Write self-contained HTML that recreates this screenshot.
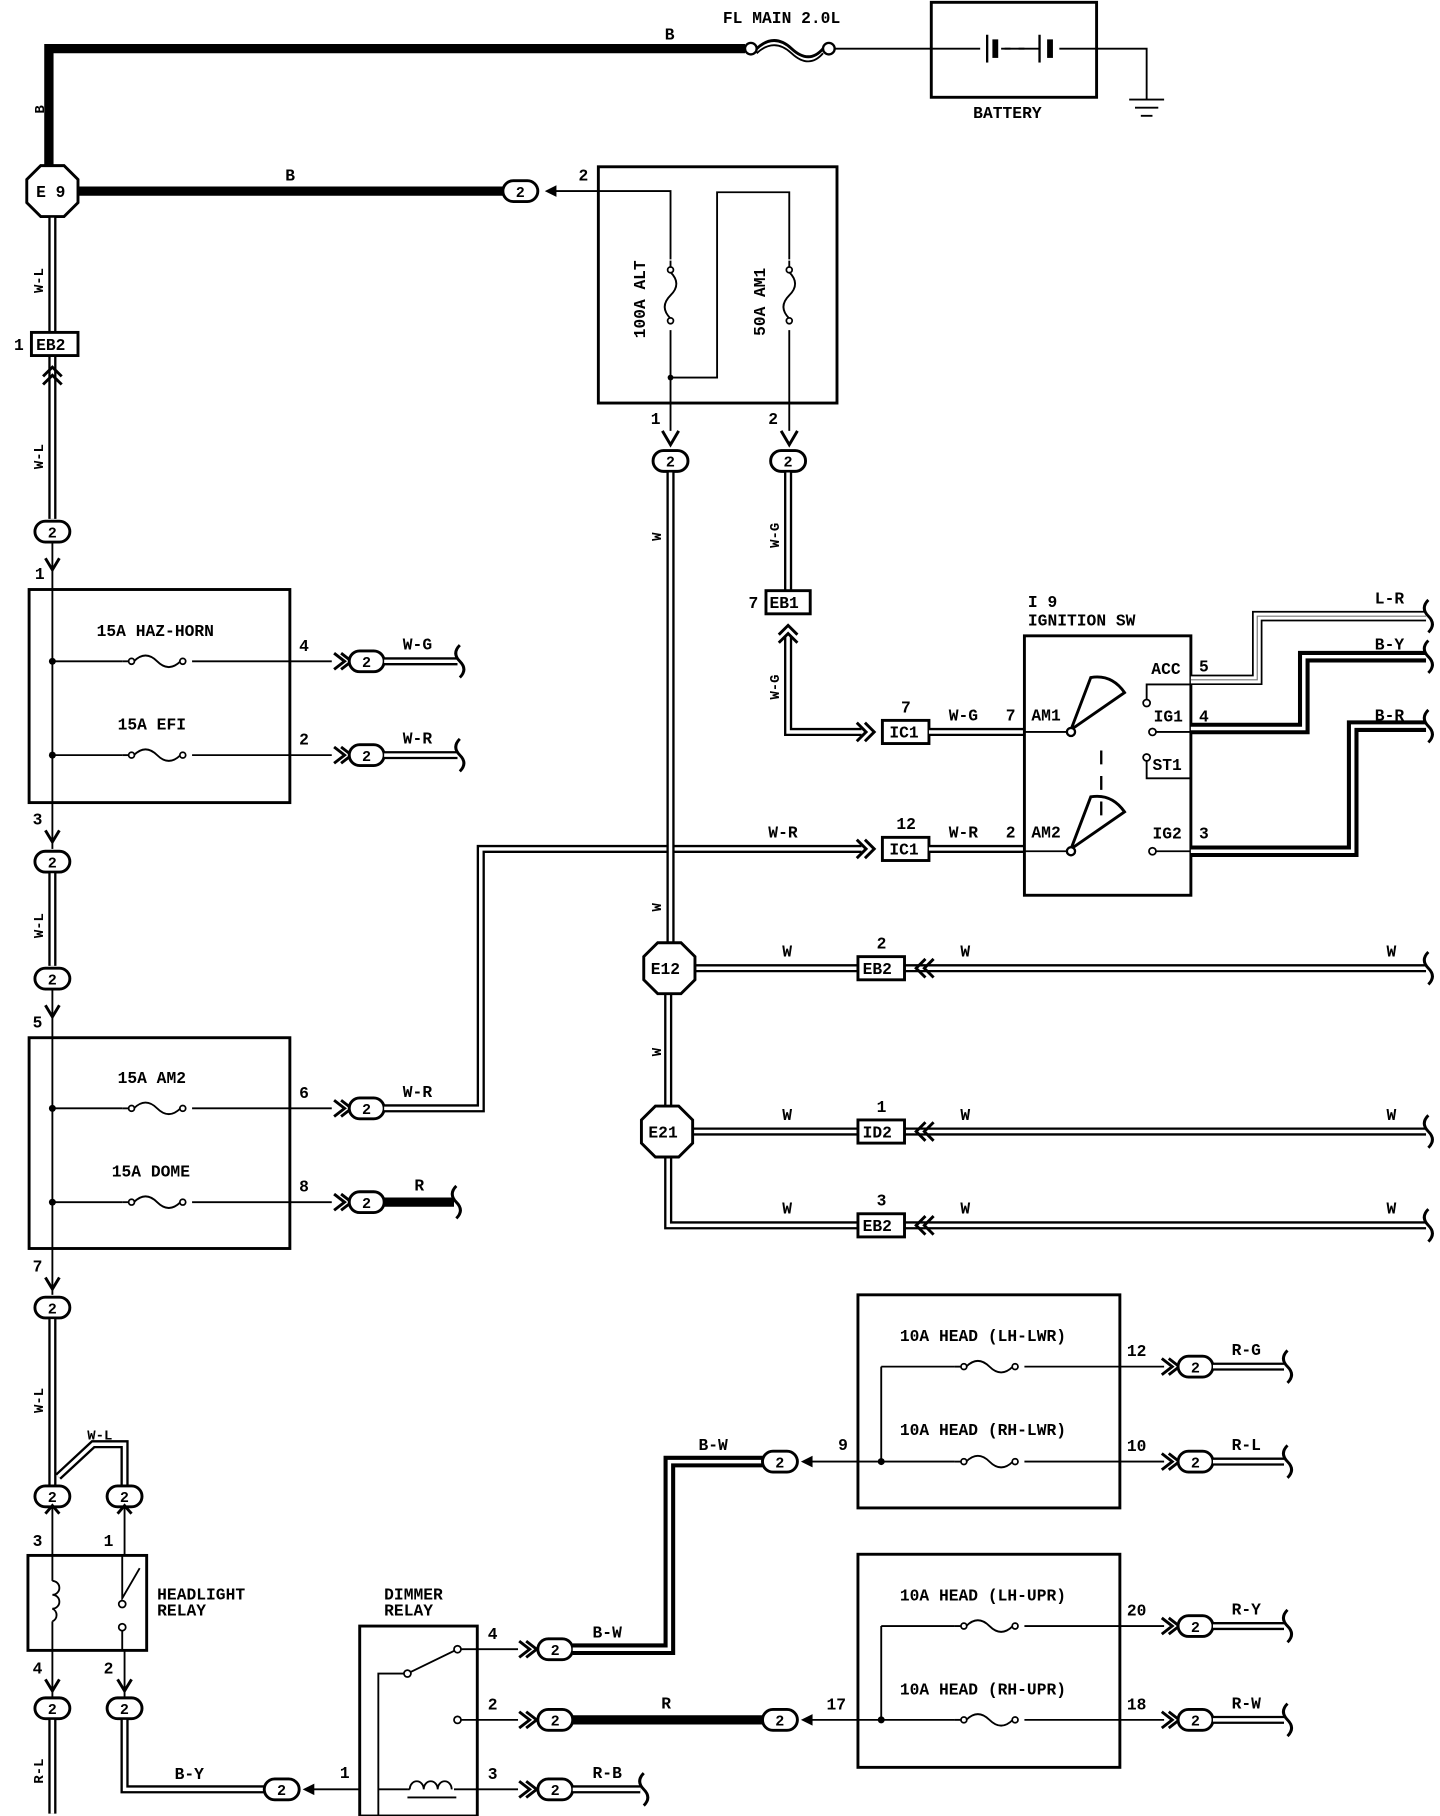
<!DOCTYPE html>
<html><head><meta charset="utf-8"><style>
html,body{margin:0;padding:0;background:#fff;}
svg{display:block}
text{font-family:"Liberation Mono",monospace;font-weight:bold;font-size:14px;fill:#000}
.t{fill:none;stroke:#000;stroke-width:1.6}
.b{fill:none;stroke:#000;stroke-width:2.5}
.k{fill:none;stroke:#000;stroke-width:8}
.do{fill:none;stroke:#000;stroke-width:7}
.di{fill:none;stroke:#fff;stroke-width:3}
.to{fill:none;stroke:#000;stroke-width:10}
.ti{fill:none;stroke:#fff;stroke-width:3}
.box{fill:#fff;stroke:#000;stroke-width:2.5}
</style></head><body>
<svg width="1440" height="1816" viewBox="0 0 1237 1568" preserveAspectRatio="none" xmlns="http://www.w3.org/2000/svg">
<defs>
<g id="c"><rect x="-15" y="-9" width="30" height="18" rx="9" fill="#fff" stroke="#000" stroke-width="2.5"/><text x="-4" y="5" style="font-size:13px">2</text></g>
<g id="sq"><path d="M0,-14 Q-7,-7 0,0 Q7,7 0,14" fill="none" stroke="#000" stroke-width="2.5"/></g>
<g id="fz"><path d="M-30,0 L-24,0" class="t"/><circle cx="-22" cy="0" r="2.5" fill="#fff" stroke="#000" stroke-width="1.5"/><path d="M-20,0 Q-10,-10 0,0 Q10,10 20,0" class="t"/><circle cx="22" cy="0" r="2.5" fill="#fff" stroke="#000" stroke-width="1.5"/></g>
<g id="ch"><path d="M-12,-8 L-4,0 L-12,8 M-5,-8 L3,0 L-5,8" fill="none" stroke="#000" stroke-width="2.5"/></g>
<g id="oct"><polygon points="-10,-22 10,-22 22,-10 22,10 10,22 -10,22 -22,10 -22,-10" fill="#fff" stroke="#000" stroke-width="2.5"/></g>
</defs>

<path class="k" d="M42,148 L42,42 L640,42"/>
<text x="571" y="34">B</text>
<text x="38" y="98" transform="rotate(-90 38 98)" style="font-size:12px">B</text>
<circle cx="645" cy="42" r="5" fill="#fff" stroke="#000" stroke-width="2"/>
<path d="M650,42 Q665,28 680,42 Q695,56 707,42" class="b"/>
<path d="M650,46 Q665,32 680,46 Q695,60 707,46" class="t"/>
<circle cx="712" cy="42" r="5" fill="#fff" stroke="#000" stroke-width="2"/>
<text x="621" y="20">FL MAIN 2.0L</text>
<path class="t" d="M717,42 L800,42"/>
<rect x="800" y="2" width="142" height="82" class="box"/>
<path class="t" d="M800,42 L842,42 M860,42 L893,42 M910,42 L942,42"/>
<path d="M848,30 L848,54" stroke="#000" stroke-width="2"/><path d="M855,34 L855,50" stroke="#000" stroke-width="5"/>
<path d="M893,30 L893,54" stroke="#000" stroke-width="2"/><path d="M902,34 L902,50" stroke="#000" stroke-width="5"/>
<path class="t" d="M863,42 L868,42 M875,42 L880,42"/>
<text x="836" y="102">BATTERY</text>
<path class="t" d="M942,42 L985,42 L985,86 M970,86 L1000,86 M975,93 L995,93 M980,100 L990,100"/>

<path class="k" d="M62,165 L432,165"/>
<text x="245" y="156">B</text>
<use href="#oct" x="45" y="165"/><text x="31" y="170">E 9</text>
<use href="#c" x="447" y="165"/>
<path class="t" d="M472,165 L514,165"/><path d="M468,165 L478,160 L478,170Z" fill="#000"/>
<text x="497" y="156">2</text>
<rect x="514" y="144" width="205" height="204" class="box"/>
<path class="t" d="M514,165 L576,165 L576,224 M576,285 L576,326 L616,326 L616,166 L678,166 L678,224 M678,285 L678,372 M576,326 L576,372"/>
<circle cx="576" cy="326" r="2.5"/>
<g transform="translate(576,255) rotate(90)"><use href="#fz"/></g>
<g transform="translate(678,255) rotate(90)"><use href="#fz"/></g>
<text x="554" y="292" transform="rotate(-90 554 292)">100A ALT</text>
<text x="657" y="290" transform="rotate(-90 657 290)">50A AM1</text>
<path d="M569,372 L576,384 L583,372" class="b"/><path d="M671,372 L678,384 L685,372" class="b"/>
<text x="559" y="366">1</text><text x="660" y="366">2</text>
<use href="#c" x="576" y="398"/><use href="#c" x="677" y="398"/>

<path class="do" d="M45,188 L45,287 M45,307 L45,448"/><path class="di" d="M45,188 L45,287 M45,307 L45,448"/>
<text x="37" y="253" transform="rotate(-90 37 253)" style="font-size:12px">W-L</text>
<rect x="27" y="287" width="40" height="20" class="box"/><text x="31" y="302">EB2</text><text x="12" y="302">1</text>
<g transform="translate(45,320) rotate(-90)"><use href="#ch"/></g>
<text x="37" y="405" transform="rotate(-90 37 405)" style="font-size:12px">W-L</text>
<use href="#c" x="45" y="459"/>
<text x="30" y="500">1</text><path class="t" d="M45,469 L45,509"/><path d="M39,482 L45,492 L51,482" class="b"/>

<rect x="25" y="509" width="224" height="184" class="box"/>
<path class="t" d="M45,509 L45,693 M45,571 L105,571 M165,571 L285,571 M45,652 L105,652 M165,652 L285,652"/>
<use href="#fz" x="135" y="571"/><use href="#fz" x="135" y="652"/>
<circle cx="45" cy="571" r="3"/><circle cx="45" cy="652" r="3"/>
<text x="83" y="549">15A HAZ-HORN</text><text x="101" y="630">15A EFI</text>
<text x="257" y="562">4</text><text x="257" y="643">2</text>
<path d="M287,564 L296,571 L287,578 M293,564 L302,571 L293,578" class="b"/>
<path d="M287,645 L296,652 L287,659 M293,645 L302,652 L293,659" class="b"/>
<use href="#c" x="315" y="571"/><use href="#c" x="315" y="652"/>
<path class="do" d="M330,571 L393,571 M330,652 L393,652"/><path class="di" d="M330,571 L393,571 M330,652 L393,652"/>
<use href="#sq" x="395" y="571"/><use href="#sq" x="395" y="652"/>
<text x="346" y="561">W-G</text><text x="346" y="642">W-R</text>

<text x="28" y="712">3</text>
<path class="t" d="M45,693 L45,733"/><path d="M39,717 L45,727 L51,717" class="b"/>
<use href="#c" x="45" y="744"/>
<path class="do" d="M45,754 L45,834"/><path class="di" d="M45,754 L45,834"/>
<text x="37" y="810" transform="rotate(-90 37 810)" style="font-size:12px">W-L</text>
<use href="#c" x="45" y="845"/>
<text x="28" y="887">5</text>
<path class="t" d="M45,855 L45,896"/><path d="M39,868 L45,878 L51,868" class="b"/>

<rect x="25" y="896" width="224" height="182" class="box"/>
<path class="t" d="M45,896 L45,1078 M45,957 L105,957 M165,957 L285,957 M45,1038 L105,1038 M165,1038 L285,1038"/>
<use href="#fz" x="135" y="957"/><use href="#fz" x="135" y="1038"/>
<circle cx="45" cy="957" r="3"/><circle cx="45" cy="1038" r="3"/>
<text x="101" y="935">15A AM2</text><text x="96" y="1016">15A DOME</text>
<text x="257" y="948">6</text><text x="257" y="1029">8</text>
<path d="M287,950 L296,957 L287,964 M293,950 L302,957 L293,964" class="b"/>
<path d="M287,1031 L296,1038 L287,1045 M293,1031 L302,1038 L293,1045" class="b"/>
<use href="#c" x="315" y="957"/><use href="#c" x="315" y="1038"/>
<path class="do" d="M330,957 L413,957 L413,733 L740,733"/><path class="di" d="M330,957 L413,957 L413,733 L740,733"/>
<text x="346" y="947">W-R</text><text x="660" y="723">W-R</text>
<path class="k" d="M330,1038 L390,1038"/><use href="#sq" x="392" y="1038"/><text x="356" y="1028">R</text>

<text x="28" y="1098">7</text>
<path class="t" d="M45,1078 L45,1118"/><path d="M39,1103 L45,1113 L51,1103" class="b"/>
<use href="#c" x="45" y="1129"/>
<path class="do" d="M45,1139 L45,1282 M50,1275 L80,1247 L107,1247 L107,1282"/><path class="di" d="M45,1139 L45,1282 M50,1275 L80,1247 L107,1247 L107,1282"/>
<text x="37" y="1220" transform="rotate(-90 37 1220)" style="font-size:12px">W-L</text>
<text x="75" y="1243" style="font-size:12px">W-L</text>
<use href="#c" x="45" y="1292"/><use href="#c" x="107" y="1292"/>
<text x="28" y="1335">3</text><text x="89" y="1335">1</text>
<path class="t" d="M45,1302 L45,1343 M107,1302 L107,1343"/>
<path d="M39,1307 L45,1300 L51,1307 M101,1307 L107,1300 L113,1307" class="b"/>
<rect x="24" y="1343" width="102" height="82" class="box"/>
<path class="t" d="M45,1343 L45,1365 M45,1400 L45,1425 M105,1343 L105,1380 L120,1354 M105,1405 L105,1425"/>
<path class="t" d="M45,1365 a6,6 0 0 1 0,12 a6,6 0 0 1 0,12 a6,6 0 0 1 0,11"/>
<circle cx="105" cy="1385" r="3" fill="#fff" stroke="#000" stroke-width="1.5"/><circle cx="105" cy="1405" r="3" fill="#fff" stroke="#000" stroke-width="1.5"/>
<text x="135" y="1381">HEADLIGHT</text><text x="135" y="1395">RELAY</text>
<text x="28" y="1445">4</text><text x="89" y="1445">2</text>
<path class="t" d="M45,1425 L45,1465 M107,1425 L107,1465"/>
<path d="M39,1450 L45,1460 L51,1450 M101,1450 L107,1460 L113,1450" class="b"/>
<use href="#c" x="45" y="1475"/><use href="#c" x="107" y="1475"/>
<path class="do" d="M45,1485 L45,1566"/><path class="di" d="M45,1485 L45,1566"/>
<text x="37" y="1540" transform="rotate(-90 37 1540)" style="font-size:12px">R-L</text>
<path class="do" d="M107,1485 L107,1545 L227,1545"/><path class="di" d="M107,1485 L107,1545 L227,1545"/>
<text x="150" y="1536">B-Y</text>
<use href="#c" x="242" y="1545"/>
<path class="t" d="M262,1545 L310,1545"/><path d="M260,1545 L270,1540 L270,1550Z" fill="#000"/>
<text x="292" y="1535">1</text>

<text x="330" y="1381">DIMMER</text><text x="330" y="1395">RELAY</text>
<rect x="309" y="1404" width="101" height="164" class="box"/>
<path class="t" d="M325,1568 L325,1445 L347,1445 M350,1445 L393,1424 M393,1424 L445,1424 M393,1485 L445,1485 M325,1545 L350,1545 M390,1545 L445,1545"/>
<circle cx="350" cy="1445" r="3" fill="#fff" stroke="#000" stroke-width="1.5"/><circle cx="393" cy="1424" r="3" fill="#fff" stroke="#000" stroke-width="1.5"/><circle cx="393" cy="1485" r="3" fill="#fff" stroke="#000" stroke-width="1.5"/>
<path class="t" d="M350,1545 L352,1545 M352,1545 a6,7 0 0 1 12,0 a6,7 0 0 1 12,0 a6,7 0 0 1 12,0"/><path class="t" d="M350,1552 L392,1552"/>
<text x="419" y="1415">4</text><text x="419" y="1476">2</text><text x="419" y="1536">3</text>
<path d="M446,1417 L455,1424 L446,1431 M452,1417 L461,1424 L452,1431" class="b"/>
<path d="M446,1478 L455,1485 L446,1492 M452,1478 L461,1485 L452,1492" class="b"/>
<path d="M446,1538 L455,1545 L446,1552 M452,1538 L461,1545 L452,1552" class="b"/>
<use href="#c" x="477" y="1424"/><use href="#c" x="477" y="1485"/><use href="#c" x="477" y="1545"/>
<path class="to" d="M492,1424 L575,1424 L575,1262 L655,1262"/><path class="ti" d="M492,1424 L575,1424 L575,1262 L655,1262"/>
<text x="509" y="1414">B-W</text><text x="600" y="1252">B-W</text>
<path class="k" d="M492,1485 L655,1485"/><text x="568" y="1475">R</text>
<path class="do" d="M492,1545 L550,1545"/><path class="di" d="M492,1545 L550,1545"/><use href="#sq" x="553" y="1545"/>
<text x="509" y="1535">R-B</text>
<use href="#c" x="670" y="1262"/><use href="#c" x="670" y="1485"/>
<path class="t" d="M690,1262 L737,1262 M690,1485 L737,1485"/>
<path d="M688,1262 L698,1257 L698,1267Z M688,1485 L698,1480 L698,1490Z" fill="#000"/>
<text x="720" y="1252">9</text><text x="710" y="1476">17</text>

<rect x="737" y="1118" width="225" height="184" class="box"/>
<rect x="737" y="1342" width="225" height="184" class="box"/>
<path class="t" d="M737,1262 L757,1262 M757,1180 L757,1262 L820,1262 M757,1180 L820,1180 M880,1180 L1000,1180 M880,1262 L1000,1262"/>
<path class="t" d="M737,1485 L757,1485 M757,1404 L757,1485 L820,1485 M757,1404 L820,1404 M880,1404 L1000,1404 M880,1485 L1000,1485"/>
<circle cx="757" cy="1262" r="3"/><circle cx="757" cy="1485" r="3"/>
<use href="#fz" x="850" y="1180"/><use href="#fz" x="850" y="1262"/><use href="#fz" x="850" y="1404"/><use href="#fz" x="850" y="1485"/>
<text x="773" y="1158">10A HEAD (LH-LWR)</text><text x="773" y="1239">10A HEAD (RH-LWR)</text>
<text x="773" y="1382">10A HEAD (LH-UPR)</text><text x="773" y="1463">10A HEAD (RH-UPR)</text>
<text x="968" y="1171">12</text><text x="968" y="1253">10</text><text x="968" y="1395">20</text><text x="968" y="1476">18</text>
<g class="b">
<path d="M998,1173 L1007,1180 L998,1187 M1004,1173 L1013,1180 L1004,1187"/>
<path d="M998,1255 L1007,1262 L998,1269 M1004,1255 L1013,1262 L1004,1269"/>
<path d="M998,1397 L1007,1404 L998,1411 M1004,1397 L1013,1404 L1004,1411"/>
<path d="M998,1478 L1007,1485 L998,1492 M1004,1478 L1013,1485 L1004,1492"/>
</g>
<use href="#c" x="1027" y="1180"/><use href="#c" x="1027" y="1262"/><use href="#c" x="1027" y="1404"/><use href="#c" x="1027" y="1485"/>
<path class="do" d="M1042,1180 L1103,1180 M1042,1262 L1103,1262 M1042,1404 L1103,1404 M1042,1485 L1103,1485"/>
<path class="di" d="M1042,1180 L1103,1180 M1042,1262 L1103,1262 M1042,1404 L1103,1404 M1042,1485 L1103,1485"/>
<use href="#sq" x="1106" y="1180"/><use href="#sq" x="1106" y="1262"/><use href="#sq" x="1106" y="1404"/><use href="#sq" x="1106" y="1485"/>
<text x="1058" y="1170">R-G</text><text x="1058" y="1252">R-L</text><text x="1058" y="1394">R-Y</text><text x="1058" y="1475">R-W</text>

<path class="do" d="M576,408 L576,815 M574,857 L574,955 M574,999 L574,1058 L1225,1058 M596,836 L1225,836 M595,977 L1225,977"/>
<path class="di" d="M576,408 L576,815 M574,857 L574,955 M574,999 L574,1058 L1225,1058 M596,836 L1225,836 M595,977 L1225,977"/>
<text x="568" y="467" transform="rotate(-90 568 467)" style="font-size:12px">W</text>
<text x="568" y="787" transform="rotate(-90 568 787)" style="font-size:12px">W</text>
<text x="568" y="912" transform="rotate(-90 568 912)" style="font-size:12px">W</text>
<use href="#oct" x="575" y="836"/><text x="559" y="841">E12</text>
<use href="#oct" x="573" y="977"/><text x="557" y="982">E21</text>
<g>
<rect x="737" y="826" width="40" height="20" class="box"/><text x="741" y="841">EB2</text><text x="753" y="819">2</text>
<rect x="737" y="967" width="40" height="20" class="box"/><text x="741" y="982">ID2</text><text x="753" y="960">1</text>
<rect x="737" y="1048" width="40" height="20" class="box"/><text x="741" y="1063">EB2</text><text x="753" y="1041">3</text>
</g>
<g transform="translate(790,836) rotate(180)"><use href="#ch"/></g>
<g transform="translate(790,977) rotate(180)"><use href="#ch"/></g>
<g transform="translate(790,1058) rotate(180)"><use href="#ch"/></g>
<text x="672" y="826">W</text><text x="825" y="826">W</text><text x="1191" y="826">W</text>
<text x="672" y="967">W</text><text x="825" y="967">W</text><text x="1191" y="967">W</text>
<text x="672" y="1048">W</text><text x="825" y="1048">W</text><text x="1191" y="1048">W</text>
<use href="#sq" x="1227" y="836"/><use href="#sq" x="1227" y="977"/><use href="#sq" x="1227" y="1058"/>

<path class="do" d="M677,408 L677,510 M677,550 L677,632 L740,632"/><path class="di" d="M677,408 L677,510 M677,550 L677,632 L740,632"/>
<text x="669" y="473" transform="rotate(-90 669 473)" style="font-size:12px">W-G</text>
<text x="669" y="604" transform="rotate(-90 669 604)" style="font-size:12px">W-G</text>
<rect x="658" y="510" width="38" height="20" class="box"/><text x="661" y="525">EB1</text><text x="643" y="525">7</text>
<g transform="translate(677,543) rotate(-90)"><use href="#ch"/></g>
<g transform="translate(748,632)"><use href="#ch"/></g><g transform="translate(748,733)"><use href="#ch"/></g>
<rect x="758" y="622" width="40" height="20" class="box"/><text x="764" y="637">IC1</text><text x="774" y="615">7</text>
<rect x="758" y="723" width="40" height="20" class="box"/><text x="764" y="738">IC1</text><text x="770" y="716">12</text>
<path class="do" d="M798,632 L880,632 M798,733 L880,733"/><path class="di" d="M798,632 L880,632 M798,733 L880,733"/>
<text x="815" y="622">W-G</text><text x="864" y="622">7</text><text x="815" y="723">W-R</text><text x="864" y="723">2</text>

<text x="883" y="524">I 9</text><text x="883" y="540">IGNITION SW</text>
<rect x="880" y="549" width="143" height="224" class="box"/>
<path class="t" d="M880,632 L918,632 M880,735 L918,735"/>
<text x="886" y="622">AM1</text><text x="886" y="723">AM2</text>
<path d="M920,630 L937,585 Q955,582 966,598 Z" fill="#fff" stroke="#000" stroke-width="2.5"/>
<path d="M920,733 L937,688 Q955,685 966,701 Z" fill="#fff" stroke="#000" stroke-width="2.5"/>
<circle cx="920" cy="632" r="3.5" fill="#fff" stroke="#000" stroke-width="2"/><circle cx="920" cy="735" r="3.5" fill="#fff" stroke="#000" stroke-width="2"/>
<path d="M946,648 L946,705" stroke="#000" stroke-width="2" stroke-dasharray="12,10"/>
<path class="t" d="M1023,591 L985,591 L985,604 M1023,632 L993,632 M1023,672 L985,672 L985,657 M1023,735 L993,735"/>
<circle cx="985" cy="607" r="3" fill="#fff" stroke="#000" stroke-width="1.5"/><circle cx="990" cy="632" r="3" fill="#fff" stroke="#000" stroke-width="1.5"/>
<circle cx="985" cy="654" r="3" fill="#fff" stroke="#000" stroke-width="1.5"/><circle cx="990" cy="735" r="3" fill="#fff" stroke="#000" stroke-width="1.5"/>
<text x="989" y="582">ACC</text><text x="991" y="623">IG1</text><text x="990" y="665">ST1</text><text x="990" y="724">IG2</text>
<text x="1030" y="580">5</text><text x="1030" y="623">4</text><text x="1030" y="724">3</text>
<path fill="none" stroke="#000" stroke-width="9" d="M1023,587 L1080,587 L1080,532 L1225,532"/>
<path fill="none" stroke="#fff" stroke-width="6" d="M1023,587 L1080,587 L1080,532 L1225,532"/>
<path fill="none" stroke="#777" stroke-width="1" d="M1023,587 L1080,587 L1080,532 L1225,532"/>
<path class="to" d="M1023,629 L1120,629 L1120,567 L1225,567"/><path class="ti" d="M1023,629 L1120,629 L1120,567 L1225,567"/>
<path class="to" d="M1023,735 L1162,735 L1162,627 L1225,627"/><path class="ti" d="M1023,735 L1162,735 L1162,627 L1225,627"/>
<use href="#sq" x="1227" y="532"/><use href="#sq" x="1227" y="567"/><use href="#sq" x="1227" y="627"/>
<text x="1181" y="521">L-R</text><text x="1181" y="561">B-Y</text><text x="1181" y="622">B-R</text>
</svg>
</body></html>
